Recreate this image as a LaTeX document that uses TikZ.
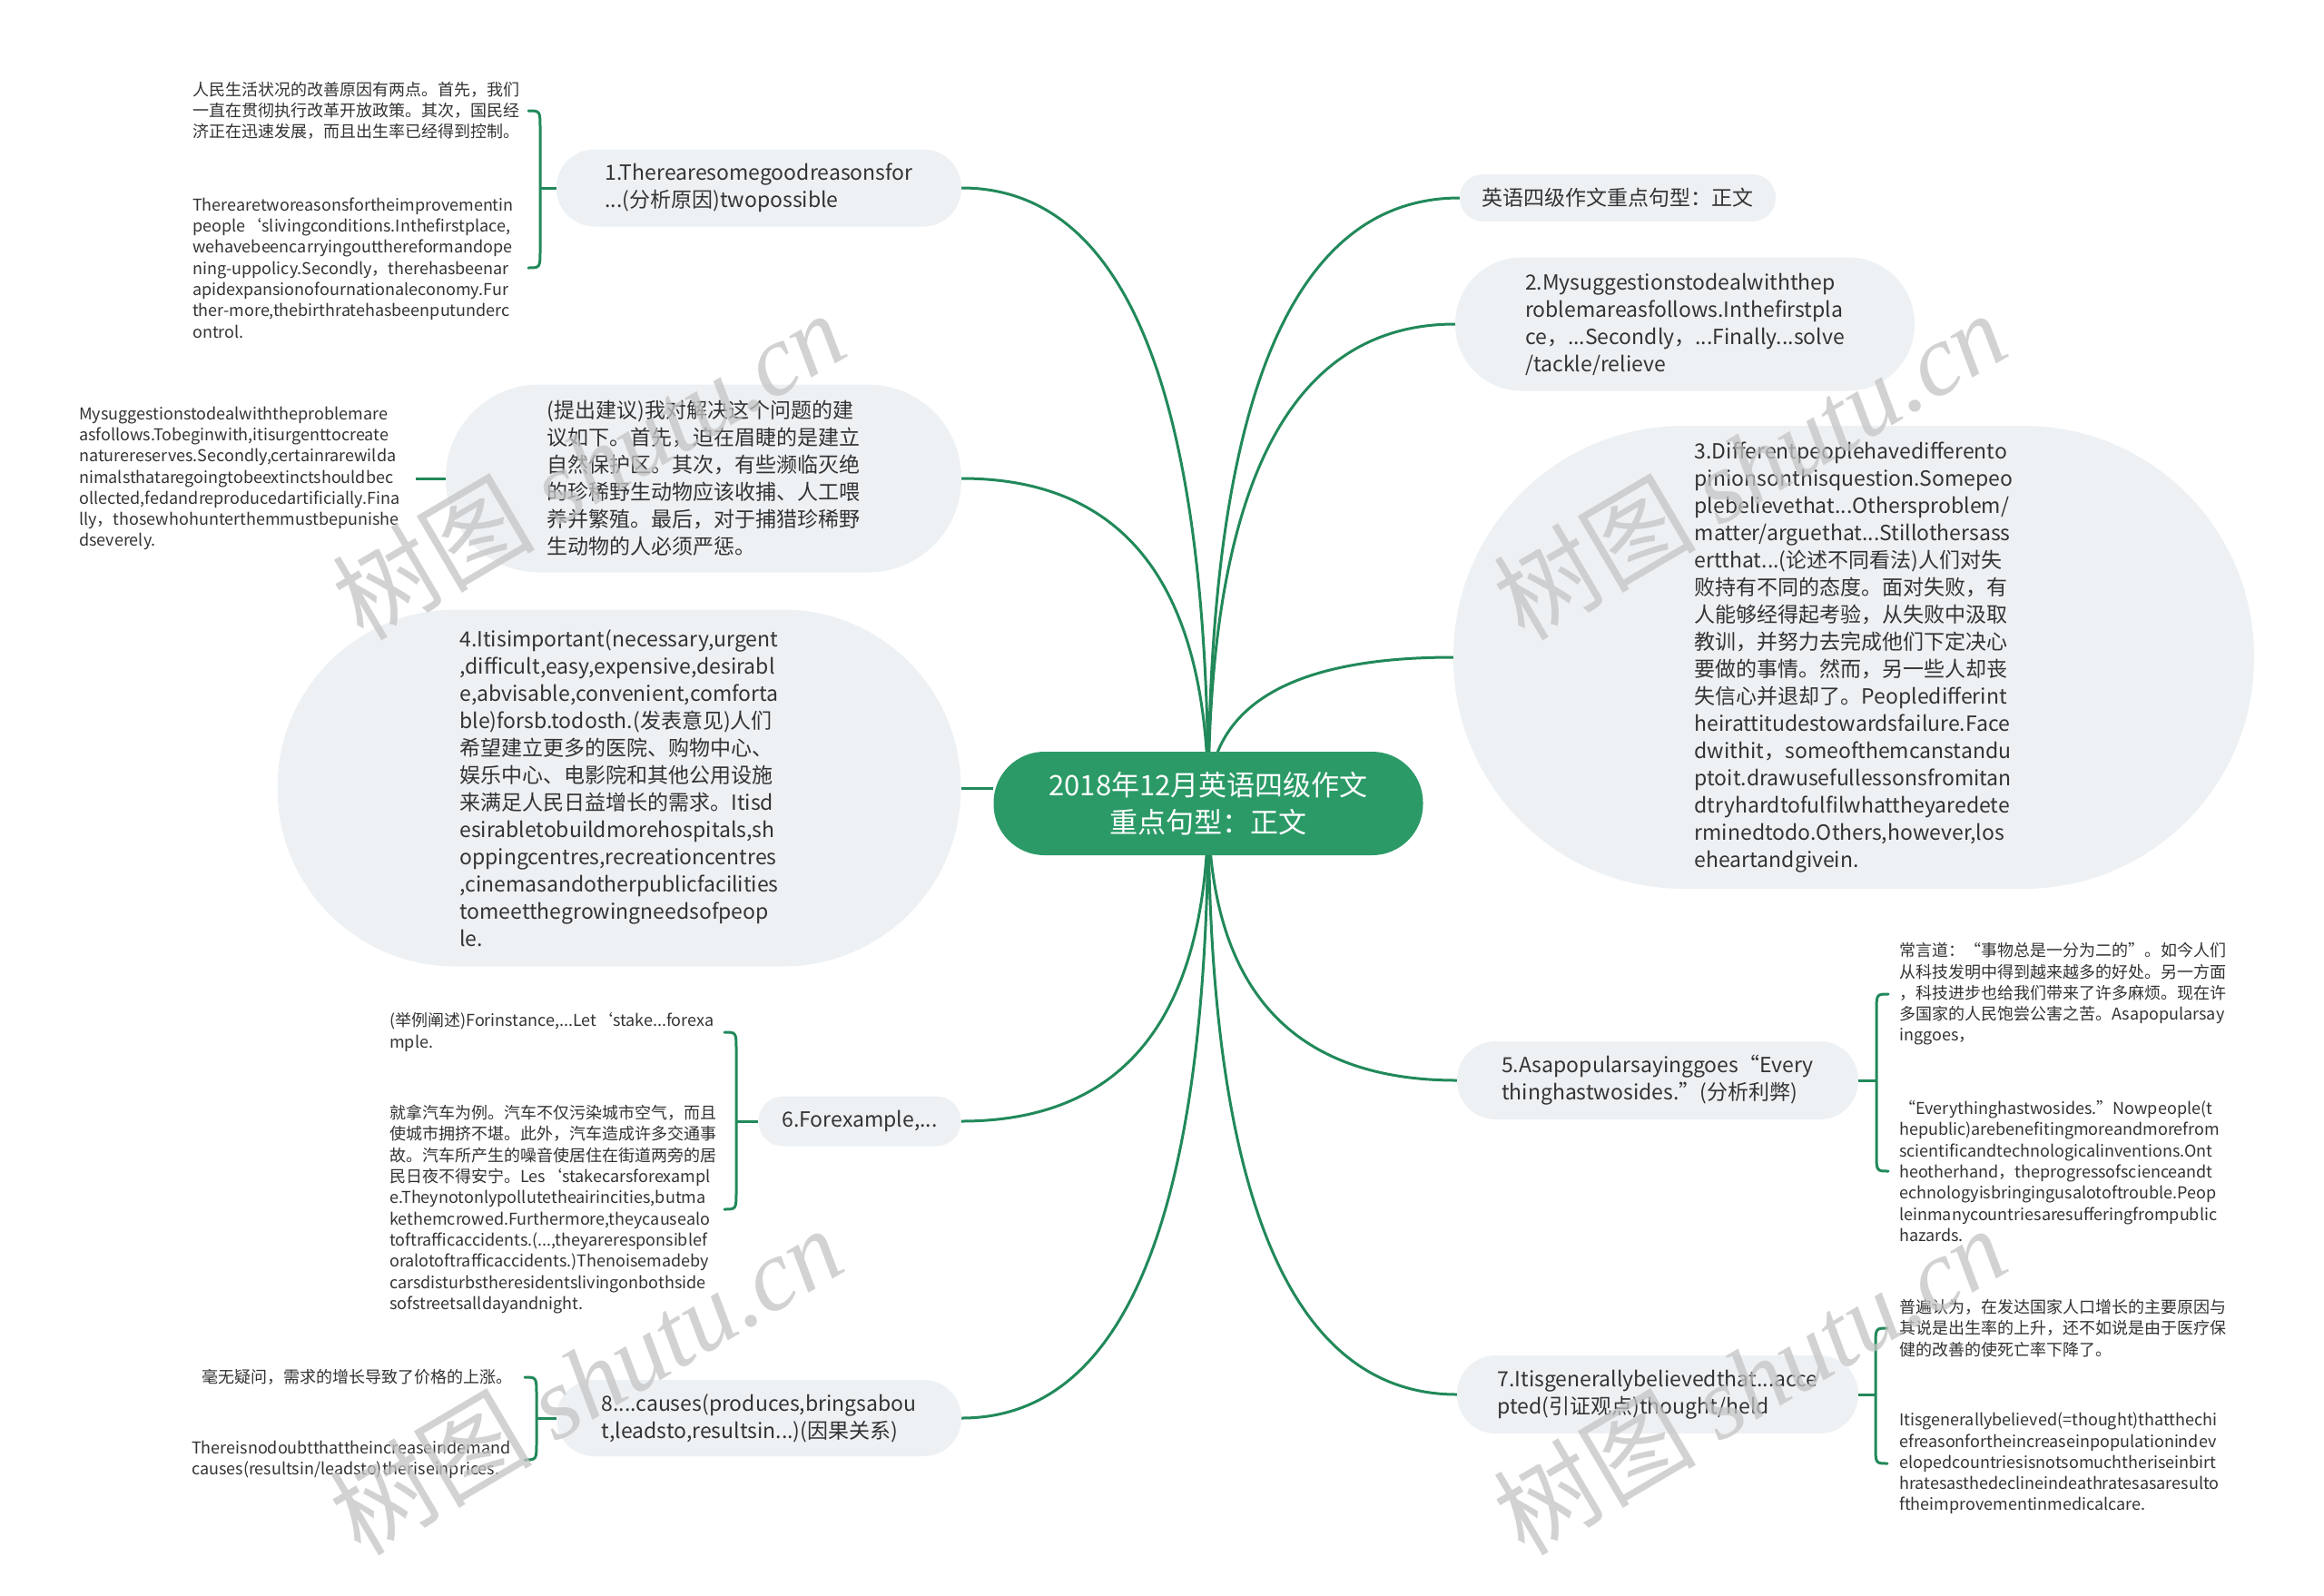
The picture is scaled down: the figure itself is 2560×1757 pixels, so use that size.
\documentclass[tikz,border=0pt]{standalone}
\usepackage{fontspec}
\setmainfont{Noto Sans CJK SC}
\newfontfamily\wmserif{Liberation Serif}
\usetikzlibrary{calc,backgrounds}
\definecolor{mmgreen}{HTML}{2B9A67}
\definecolor{mmline}{HTML}{21895A}
\definecolor{mmbox}{HTML}{EEF1F4}
\definecolor{mmtext}{HTML}{333333}
\definecolor{wmgray}{HTML}{C4C4C4}
\newcommand\mmconn[1]{\draw[link] (#1) .. controls ($(#1)!0.667!(C.center |- #1)$) and ($(C.center)!0.667!(C.center |- #1)$) .. (C.center);}
\newcommand\mmbrace[4]{\draw[brk] ({#1+#4*13},#2) .. controls (#1,#2) .. (#1,{#2+20}) -- (#1,{#3-20}) .. controls (#1,#3) .. ({#1+#4*13},#3);}
\begin{document}
\begin{tikzpicture}[x=1pt,y=-1pt,
  box/.style n args={3}{draw=none, fill=mmbox, rounded corners=#3pt, minimum width=#1pt, minimum height=#2pt, inner sep=0pt, align=left, text=mmtext, font=\fontsize{23}{30}\selectfont},
  leaf/.style={inner sep=0pt, align=left, text=mmtext, font=\fontsize{18}{23.3}\selectfont},
  link/.style={draw=mmline, line width=3pt},
  brk/.style={draw=mmline, line width=3pt, line cap=round},
  wm/.style={text=wmgray, opacity=0.75, rotate=30.5, inner sep=0pt, font=\fontsize{112}{112}\selectfont}]
\useasboundingbox (0,0) rectangle (2560,1757);

% central node
\node[box={473}{114}{56}, fill=mmgreen, text=white, align=center, font=\fontsize{31}{41}\selectfont] (C) at (1331,885) {2018年12月英语四级作文\\重点句型：正文};

% right branches
\node[box={348}{52}{25.5}] (R0) at (1782,218) {英语四级作文重点句型：正文};
\node[box={506}{147}{73}] (R2) at (1856,357) {2.Mysuggestionstodealwiththep\\roblemareasfollows.Inthefirstpla\\ce，...Secondly，...Finally...solve\\/tackle/relieve};
\node[box={882}{510}{254}] (R3) at (2042,724) {3.Differentpeoplehavedifferento\\pinionsonthisquestion.Somepeo\\plebelievethat...Othersproblem/\\matter/arguethat...Stillothersass\\ertthat...(论述不同看法)人们对失\\败持有不同的态度。面对失败，有\\人能够经得起考验，从失败中汲取\\教训，并努力去完成他们下定决心\\要做的事情。然而，另一些人却丧\\失信心并退却了。Peopledifferint\\heirattitudestowardsfailure.Face\\dwithit，someofthemcanstandu\\ptoit.drawusefullessonsfromitan\\dtryhardtofulfilwhattheyaredete\\rminedtodo.Others,however,los\\eheartandgivein.};
\node[box={442}{86}{42.5}] (R5) at (1826,1190) {5.Asapopularsayinggoes“Every\\thinghastwosides.”(分析利弊)};
\node[box={442}{86}{42.5}] (R7) at (1826,1536) {7.Itisgenerallybelievedthat...acce\\pted(引证观点)thought/held};

% left branches
\node[box={446}{85}{42}] (L1) at (836,207) {1.Therearesomegoodreasonsfor\\...(分析原因)twopossible};
\node[box={568}{207}{103}] (L2) at (775,527) {(提出建议)我对解决这个问题的建\\议如下。首先，迫在眉睫的是建立\\自然保护区。其次，有些濒临灭绝\\的珍稀野生动物应该收捕、人工喂\\养并繁殖。最后，对于捕猎珍稀野\\生动物的人必须严惩。};
\node[box={753}{393}{196}] (L4) at (682,868) {4.Itisimportant(necessary,urgent\\,difficult,easy,expensive,desirabl\\e,abvisable,convenient,comforta\\ble)forsb.todosth.(发表意见)人们\\希望建立更多的医院、购物中心、\\娱乐中心、电影院和其他公用设施\\来满足人民日益增长的需求。Itisd\\esirabletobuildmorehospitals,sh\\oppingcentres,recreationcentres\\,cinemasandotherpublicfacilities\\tomeetthegrowingneedsofpeop\\le.};
\node[box={223}{55}{27}] (L6) at (947,1235) {6.Forexample,...};
\node[box={446}{84}{41.5}] (L8) at (836,1562) {8....causes(produces,bringsabou\\t,leadsto,resultsin...)(因果关系)};

% leaves
\node[leaf, anchor=west] (L1a) at (212,122) {人民生活状况的改善原因有两点。首先，我们\\一直在贯彻执行改革开放政策。其次，国民经\\济正在迅速发展，而且出生率已经得到控制。};
\node[leaf, anchor=west] (L1b) at (212,295) {Therearetworeasonsfortheimprovementin\\people‘slivingconditions.Inthefirstplace,\\wehavebeencarryingoutthereformandope\\ning-uppolicy.Secondly，therehasbeenar\\apidexpansionofournationaleconomy.Fur\\ther-more,thebirthratehasbeenputunderc\\ontrol.};
\node[leaf, anchor=west] (L2a) at (87,527) {Mysuggestionstodealwiththeproblemare\\asfollows.Tobeginwith,itisurgenttocreate\\naturereserves.Secondly,certainrarewilda\\nimalsthataregoingtobeextinctshouldbec\\ollected,fedandreproducedartificially.Fina\\lly，thosewhohunterthemmustbepunishe\\dseverely.};
\node[leaf, anchor=west] (L6a) at (429,1137) {(举例阐述)Forinstance,...Let‘stake...forexa\\mple.};
\node[leaf, anchor=west] (L6b) at (429,1332) {就拿汽车为例。汽车不仅污染城市空气，而且\\使城市拥挤不堪。此外，汽车造成许多交通事\\故。汽车所产生的噪音使居住在街道两旁的居\\民日夜不得安宁。Les‘stakecarsforexampl\\e.Theynotonlypollutetheairincities,butma\\kethemcrowed.Furthermore,theycausealo\\toftrafficaccidents.(...,theyareresponsiblef\\oralotoftrafficaccidents.)Thenoisemadeby\\carsdisturbstheresidentslivingonbothside\\sofstreetsalldayandnight.};
\node[leaf, anchor=east] (L8a) at (565,1517) {毫无疑问，需求的增长导致了价格的上涨。};
\node[leaf, anchor=west] (L8b) at (211,1608) {Thereisnodoubtthattheincreaseindemand\\causes(resultsin/leadsto)theriseinprices.};
\node[leaf, anchor=west] (R5a) at (2092,1095) {常言道：“事物总是一分为二的”。如今人们\\从科技发明中得到越来越多的好处。另一方面\\，科技进步也给我们带来了许多麻烦。现在许\\多国家的人民饱尝公害之苦。Asapopularsay\\inggoes，};
\node[leaf, anchor=west] (R5b) at (2092,1290) {“Everythinghastwosides.”Nowpeople(t\\hepublic)arebenefitingmoreandmorefrom\\scientificandtechnologicalinventions.Ont\\heotherhand，theprogressofscienceandt\\echnologyisbringingusalotoftrouble.Peop\\leinmanycountriesaresufferingfrompublic\\hazards.};
\node[leaf, anchor=west] (R7a) at (2092,1463) {普遍认为，在发达国家人口增长的主要原因与\\其说是出生率的上升，还不如说是由于医疗保\\健的改善的使死亡率下降了。};
\node[leaf, anchor=west] (R7b) at (2092,1612) {Itisgenerallybelieved(=thought)thatthechi\\efreasonfortheincreaseinpopulationindev\\elopedcountriesisnotsomuchtheriseinbirt\\hratesasthedeclineindeathratesasaresulto\\ftheimprovementinmedicalcare.};

% junction coordinates
\coordinate (L1j) at (595,207);
\coordinate (L2j) at (458,527);
\coordinate (L6j) at (811,1235);
\coordinate (L8j) at (591,1562);
\coordinate (R5j) at (2067,1190);
\coordinate (R7j) at (2066,1536);

\begin{pgfonlayer}{background}
\fill[white] (0,0) rectangle (2560,1757);
\mmconn{L1.east}
\mmconn{L2.east}
\mmconn{R0.west}
\mmconn{R2.west}
\mmconn{R3.west}
\mmconn{L6.east}
\mmconn{L8.east}
\mmconn{R5.west}
\mmconn{R7.west}
\draw[link] (L4.east) -- (L4.east -| C.west);
\end{pgfonlayer}

% brackets and stubs
\draw[link] (L1.west) -- (L1j);
\mmbrace{595}{122}{295}{-1}
\draw[link] (L2.west) -- (L2j);
\draw[link] (L6.west) -- (L6j);
\mmbrace{811}{1137}{1332}{-1}
\draw[link] (L8.west) -- (L8j);
\mmbrace{591}{1517}{1608}{-1}
\draw[link] (R5.east) -- (R5j);
\mmbrace{2067}{1095}{1290}{1}
\draw[link] (R7.east) -- (R7j);
\mmbrace{2066}{1463}{1612}{1}

% watermarks
\node[wm] (W1) at (648,512) {树图 {\wmserif\itshape shutu.cn}};
\node[wm] (W2) at (1927,512) {树图 {\wmserif\itshape shutu.cn}};
\node[wm] (W3) at (645,1520) {树图 {\wmserif\itshape shutu.cn}};
\node[wm] (W4) at (1927,1520) {树图 {\wmserif\itshape shutu.cn}};
\end{tikzpicture}
\end{document}
